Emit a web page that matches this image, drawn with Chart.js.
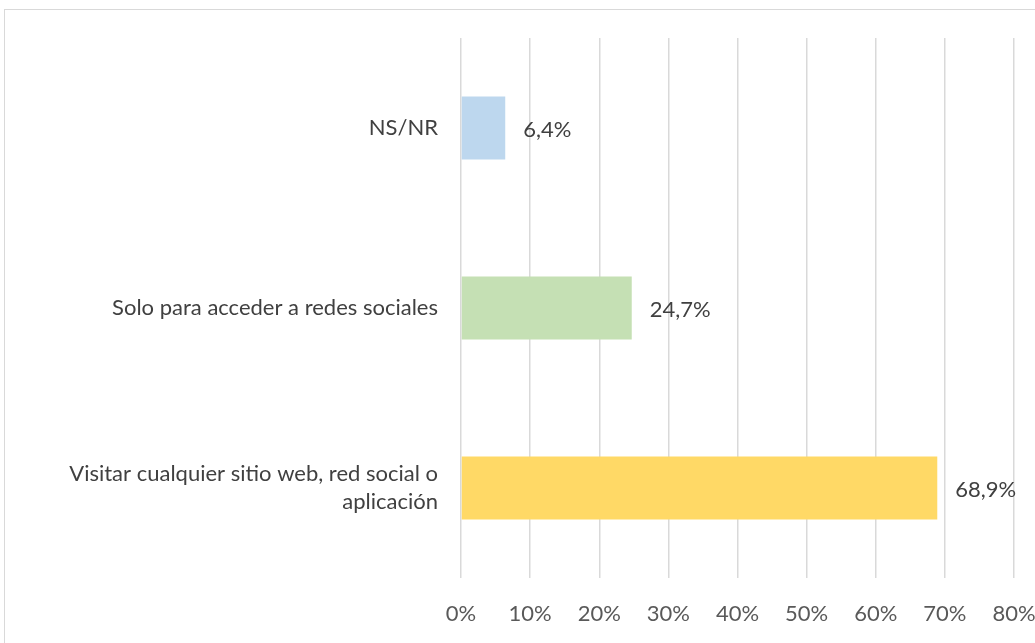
<!DOCTYPE html>
<html>
  <head>
    <meta charset="utf-8">
    <script src="https://cdn.jsdelivr.net/npm/chart.js"></script>
    <style>
      html, body { margin: 0; padding: 0; background: #fff; overflow: hidden; }
      #wrap { position: relative; width: 1035px; height: 643px; }
      #frame { position: absolute; left: 4px; top: 9px; width: 1100px; height: 700px;
               border: 1.5px solid #d9d9d9; box-sizing: border-box; }
      canvas { position: absolute; left: 0; top: 0; }
    </style>
    <script>
      // Chart data
      const categories = [
        'NS/NR',
        'Solo para acceder a redes sociales',
        ['Visitar cualquier sitio web, red social o', 'aplicación']
      ];
      const values = [6.4, 24.7, 68.9];
      const barColors = ['#bdd7ee', '#c5e0b4', '#ffd966'];
      const tickValues = [0, 10, 20, 30, 40, 50, 60, 70, 80];

      window.onload = function() {
        const fontFamily = 'Lato, "Open Sans", sans-serif';

        // draws the value labels at the end of each bar
        const valueLabels = {
          id: 'valueLabels',
          afterDatasetsDraw(chart) {
            const ctx = chart.ctx;
            const meta = chart.getDatasetMeta(0);
            ctx.save();
            ctx.font = '22px ' + fontFamily;
            ctx.fillStyle = '#404040';
            ctx.textAlign = 'left';
            ctx.textBaseline = 'middle';
            meta.data.forEach(function(bar, i) {
              const txt = values[i].toFixed(1).replace('.', ',') + '%';
              ctx.fillText(txt, bar.x + 18, bar.y + 2);
            });
            ctx.restore();
          }
        };

        new Chart(document.getElementById('myChart'), {
          type: 'bar',
          data: {
            labels: categories,
            datasets: [{
              data: values,
              backgroundColor: barColors,
              borderWidth: 0,
              barPercentage: 0.7,
              categoryPercentage: 0.5
            }]
          },
          options: {
            indexAxis: 'y',
            responsive: false,
            animation: false,
            layout: { padding: { top: 38, right: 21, left: 0, bottom: 0 } },
            plugins: {
              legend: { display: false },
              tooltip: { enabled: false }
            },
            scales: {
              x: {
                min: 0,
                max: 80,
                afterBuildTicks: function(axis) {
                  axis.ticks = tickValues.map(v => ({ value: v }));
                },
                afterFit: function(axis) {
                  axis.height = 65;
                  axis.paddingLeft = 0;
                  axis.paddingRight = 0;
                },
                grid: { color: '#d9d9d9', lineWidth: 1.5, drawTicks: false },
                border: { display: false },
                ticks: {
                  padding: 23,
                  color: '#595959',
                  font: { family: fontFamily, size: 22 },
                  callback: v => v + '%'
                }
              },
              y: {
                afterFit: function(axis) {
                  axis.width = 461;
                  axis.paddingTop = 0;
                  axis.paddingBottom = 0;
                },
                grid: { display: false, drawTicks: false },
                border: { display: false },
                ticks: {
                  padding: 23,
                  color: '#404040',
                  font: { family: fontFamily, size: 22, lineHeight: 1.25 }
                }
              }
            }
          },
          plugins: [valueLabels]
        });
      };
    </script>
  </head>
  <body>
    <div id="wrap">
      <div id="frame"></div>
      <canvas id="myChart" width="1035" height="643"></canvas>
    </div>
  </body>
</html>
